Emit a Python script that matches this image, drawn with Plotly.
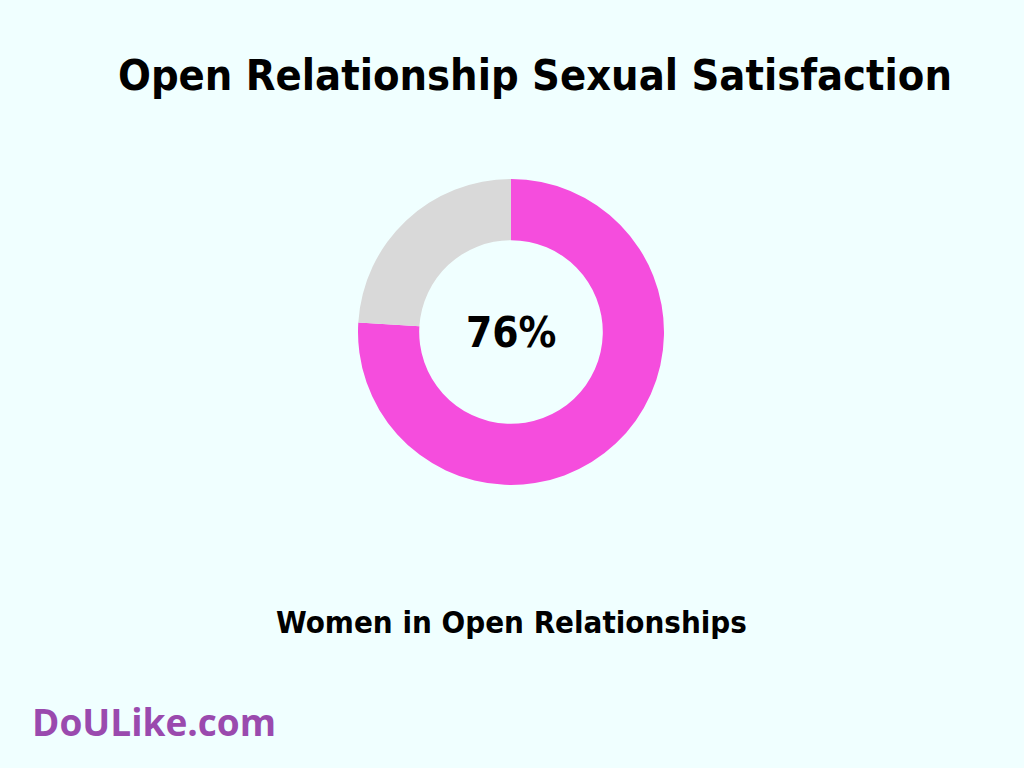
import plotly.graph_objects as go

labels = ["Satisfied", "Other"]
values = [76, 24]
colors = ["#F54DDD", "#D9D9D9"]
title_text = "Open Relationship Sexual Satisfaction"
center_text = "76%"
subtitle_text = "Women in Open Relationships"
logo_text = "DoULike.com"

BG = "#F0FFFF"
COND = "DejaVu Sans Condensed, DejaVu Sans, sans-serif"

fig = go.Figure(go.Pie(
    labels=labels, values=values, hole=0.6, sort=False,
    direction="clockwise", rotation=0,
    marker=dict(colors=colors, line=dict(width=0)),
    textinfo="none", hoverinfo="label+percent",
    domain=dict(x=[358/1024, 664/1024], y=[283/768, 589/768]),
    showlegend=False,
))

fig.update_layout(
    width=1024, height=768,
    margin=dict(l=0, r=0, t=0, b=0),
    paper_bgcolor=BG, plot_bgcolor=BG,
    annotations=[
        dict(text=f"<b>{title_text}</b>", x=535/1024, y=1-75/768, xref="paper", yref="paper",
             showarrow=False, font=dict(family=COND, size=43, color="#000000"), xanchor="center", yanchor="middle"),
        dict(text=f"<b>{center_text}</b>", x=511/1024, y=1-332/768, xref="paper", yref="paper",
             showarrow=False, font=dict(family=COND, size=42, color="#000000"), xanchor="center", yanchor="middle"),
        dict(text=f"<b>{subtitle_text}</b>", x=511/1024, y=1-622/768, xref="paper", yref="paper",
             showarrow=False, font=dict(family=COND, size=31, color="#000000"), xanchor="center", yanchor="middle"),
        dict(text=f"<b>{logo_text}</b>", x=30/1024, y=1-721/768, xref="paper", yref="paper",
             showarrow=False, font=dict(family="Open Sans, Noto Sans, sans-serif", size=37, color="#9A4AAE"),
             xanchor="left", yanchor="middle"),
    ],
)

post = "document.body.style.margin = '0';"

fig.write_html("out.html", post_script=post, config={"displayModeBar": False})
